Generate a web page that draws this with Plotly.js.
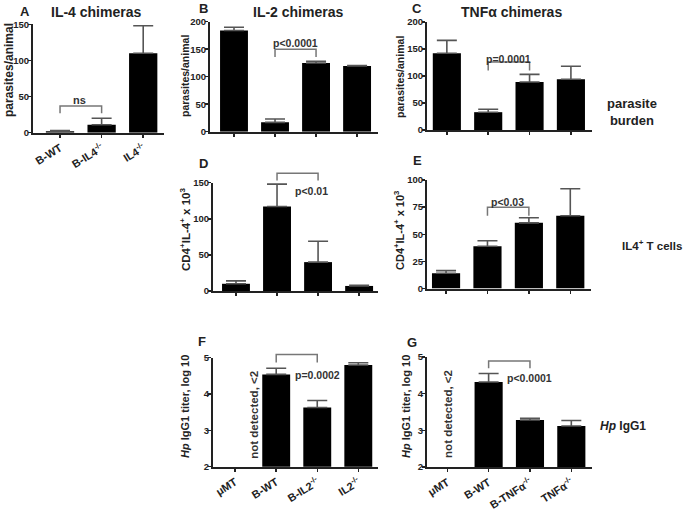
<!DOCTYPE html>
<html>
<head>
<meta charset="utf-8">
<script src="https://cdn.plot.ly/plotly-3.0.1.min.js"></script>
<style>html,body{margin:0;padding:0;background:#fff;}#chart{width:685px;height:511px;}</style>
</head>
<body>
<div id="chart"></div>
<script>
// ---------- data ----------
const catsA = ['B-WT', 'B-IL4<sup>-/-</sup>', 'IL4<sup>-/-</sup>'];
const parasitesA = [2, 11, 110];
const parasitesAErr = [1, 9, 38];

const catsIL2 = ['μMT', 'B-WT', 'B-IL2<sup>-/-</sup>', 'IL2<sup>-/-</sup>'];
const parasitesB = [184, 17, 125, 119.5];
const parasitesBErr = [6, 6, 3, 1];

const catsTNF = ['μMT', 'B-WT', 'B-TNFα<sup>-/-</sup>', 'TNFα<sup>-/-</sup>'];
const parasitesC = [142, 33, 89, 94];
const parasitesCErr = [24, 5.5, 14, 24];

const il4TcellsD = [10, 117, 40, 7];
const il4TcellsDErr = [4, 31, 29, 1];

const il4TcellsE = [14, 39, 60.5, 67];
const il4TcellsEErr = [2.5, 5, 4.7, 25];

const igg1F = [null, 4.54, 3.63, 4.80];
const igg1FErr = [0, 0.17, 0.19, 0.06];

const igg1G = [null, 4.32, 3.28, 3.12];
const igg1GErr = [0, 0.23, 0.05, 0.15];

const ticksA = [0, 50, 100, 150];
const ticks200 = [0, 50, 100, 150, 200];
const ticksE = [0, 25, 50, 75, 100];
const ticksLog = [2, 3, 4, 5];

// ---------- style ----------
const FONT = 'Liberation Sans, Arial, Helvetica, sans-serif';
const W = 685, H = 511;
const px = x => x / W;
const py = y => 1 - y / H;

// panel geometry in pixels: [left, right, top, bottom]
const geo = {
  1: {box: [33, 164, 24.3, 132.7], xr: [-0.65, 2.5], yr: [0, 150]},
  2: {box: [210, 378, 21.7, 131.7], xr: [-0.585, 3.51], yr: [0, 200]},
  3: {box: [427, 592, 22, 130], xr: [-0.48, 3.51], yr: [0, 200]},
  4: {box: [213, 378, 182.7, 291], xr: [-0.56, 3.46], yr: [0, 150]},
  5: {box: [427, 591, 180, 288.5], xr: [-0.46, 3.5], yr: [0, 100]},
  6: {box: [213, 378, 357.7, 466.7], xr: [-0.54, 3.48], yr: [2, 5]},
  7: {box: [427, 592, 357, 467], xr: [-0.49, 3.5], yr: [2, 5]}
};

function barTrace(n, cats, vals, errs) {
  return {
    type: 'bar', x: cats, y: vals,
    xaxis: n === 1 ? 'x' : 'x' + n, yaxis: n === 1 ? 'y' : 'y' + n,
    width: 0.68,
    marker: {color: '#000', line: {width: 0}},
    error_y: {type: 'data', symmetric: false, array: errs, arrayminus: errs.map(() => 0),
              color: '#555', thickness: 1.6, width: 10},
    hoverinfo: 'skip'
  };
}

function xAxis(n, showLabels) {
  const g = geo[n];
  return {
    domain: [px(g.box[0]), px(g.box[1])], range: g.xr, type: 'category',
    anchor: n === 1 ? 'y' : 'y' + n,
    showline: true, linecolor: '#222', linewidth: 2,
    ticks: 'outside', ticklen: 3, tickwidth: 1.5, tickcolor: '#222',
    showticklabels: showLabels, tickangle: -32,
    tickfont: {family: FONT, size: 11, color: '#222', weight: 'bold'},
    showgrid: false, zeroline: false, fixedrange: true
  };
}

function yAxis(n, tickvals) {
  const g = geo[n];
  return {
    domain: [py(g.box[3]), py(g.box[2])], range: g.yr,
    anchor: n === 1 ? 'x' : 'x' + n,
    showline: true, linecolor: '#222', linewidth: 2,
    ticks: 'outside', ticklen: 3, tickwidth: 1.5, tickcolor: '#222',
    ticklabelstandoff: -3,
    tickvals: tickvals, ticktext: tickvals.map(String),
    tickfont: {family: FONT, size: 9.5, color: '#222', weight: 'bold'},
    showgrid: false, zeroline: false, fixedrange: true
  };
}

// convert data coordinate to paper coordinate for a panel
function pX(n, v) { const g = geo[n]; const f = (v - g.xr[0]) / (g.xr[1] - g.xr[0]); return px(g.box[0] + f * (g.box[1] - g.box[0])); }
function pY(n, v) { const g = geo[n]; const f = (v - g.yr[0]) / (g.yr[1] - g.yr[0]); return py(g.box[3] - f * (g.box[3] - g.box[2])); }

function bracket(n, i0, i1, yTop, yTip) {
  const x0 = pX(n, i0), x1 = pX(n, i1), yt = pY(n, yTop), yb = pY(n, yTip);
  return {type: 'path', xref: 'paper', yref: 'paper',
          path: `M${x0},${yb} L${x0},${yt} L${x1},${yt} L${x1},${yb}`,
          line: {color: '#777', width: 1.5}};
}

function pText(n, text, xv, yv, size) {
  const ax = n === 1 ? '' : n;
  return {xref: 'x' + ax, yref: 'y' + ax, x: xv, y: yv, text: text, showarrow: false,
          font: {family: FONT, size: size || 10.5, color: '#333', weight: 'bold'},
          xanchor: 'center', yanchor: 'middle'};
}

function label(text, x, y, size, extra) {
  return Object.assign({xref: 'paper', yref: 'paper', x: px(x), y: py(y), text: text, showarrow: false,
          font: {family: FONT, size: size, color: '#222', weight: 'bold'},
          xanchor: 'center', yanchor: 'middle'}, extra || {});
}

function yTitle(text, x, y, size) {
  return label(text, x, y, size, {textangle: -90});
}

const data = [
  barTrace(1, catsA, parasitesA, parasitesAErr),
  barTrace(2, catsIL2, parasitesB, parasitesBErr),
  barTrace(3, catsTNF, parasitesC, parasitesCErr),
  barTrace(4, catsIL2, il4TcellsD, il4TcellsDErr),
  barTrace(5, catsTNF, il4TcellsE, il4TcellsEErr),
  barTrace(6, catsIL2, igg1F, igg1FErr),
  barTrace(7, catsTNF, igg1G, igg1GErr)
];

const cd4Title = 'CD4<sup>+</sup>IL-4<sup>+</sup> x 10<sup>3</sup>';
const hpTitle = '<i>Hp</i> IgG1 titer, log 10';

const layout = {
  width: W, height: H,
  margin: {l: 0, r: 0, t: 0, b: 0},
  paper_bgcolor: '#fff', plot_bgcolor: '#fff',
  showlegend: false,
  bargap: 0.32,
  font: {family: FONT, color: '#222'},
  xaxis: xAxis(1, true), yaxis: yAxis(1, ticksA),
  xaxis2: xAxis(2, false), yaxis2: yAxis(2, ticks200),
  xaxis3: xAxis(3, false), yaxis3: yAxis(3, ticks200),
  xaxis4: xAxis(4, false), yaxis4: yAxis(4, ticksA),
  xaxis5: xAxis(5, false), yaxis5: yAxis(5, ticksE),
  xaxis6: xAxis(6, true), yaxis6: yAxis(6, ticksLog),
  xaxis7: xAxis(7, true), yaxis7: yAxis(7, ticksLog),
  shapes: [
    bracket(1, 0, 1, 37, 27),
    bracket(2, 1, 2, 150, 136),
    bracket(3, 1, 2, 126, 110),
    bracket(4, 1, 2, 163, 153),
    bracket(5, 1, 2, 75, 67),
    bracket(6, 1, 2, 5.09, 4.87),
    bracket(7, 1, 2, 4.89, 4.69)
  ],
  annotations: [
    label('A', 25, 11, 13), label('IL-4 chimeras', 96, 12, 14),
    label('B', 203, 8.5, 13), label('IL-2 chimeras', 298, 12, 14),
    label('C', 417, 8.5, 13), label('TNFα chimeras', 512, 12, 14),
    label('D', 203, 163, 13), label('E', 417, 161, 13),
    label('F', 202, 341, 13), label('G', 412, 342, 13),
    label('parasite<br>burden', 632, 112, 13),
    label('IL4<sup>+</sup> T cells', 684, 245, 11.5, {xanchor: 'right'}),
    label('<i>Hp</i> IgG1', 623, 426, 12),
    yTitle('parasites/animal', 9, 70, 12),
    yTitle('parasites/animal', 185, 76, 10.5),
    yTitle('parasites/animal', 400, 77, 10.5),
    yTitle(cd4Title, 185, 230, 11.5),
    yTitle(cd4Title, 399, 231, 11),
    yTitle(hpTitle, 185, 407, 11),
    yTitle(hpTitle, 406, 407, 11),
    pText(1, 'ns', 0.46, 45, 11),
    pText(2, 'p<0.0001', 1.49, 162),
    pText(3, 'p=0.0001', 1.5, 132),
    pText(4, 'p<0.01', 1.85, 139),
    pText(5, 'p<0.03', 1.48, 80),
    pText(6, 'p=0.0002', 2.0, 4.52),
    pText(7, 'p<0.0001', 2.0, 4.42),
    Object.assign(pText(6, 'not detected, <2', 0.45, 3.42, 11.5), {textangle: -90}),
    Object.assign(pText(7, 'not detected, <2', 0.02, 3.45, 11.5), {textangle: -90})
  ]
};

Plotly.newPlot('chart', data, layout, {staticPlot: true, displayModeBar: false});
</script>
</body>
</html>
